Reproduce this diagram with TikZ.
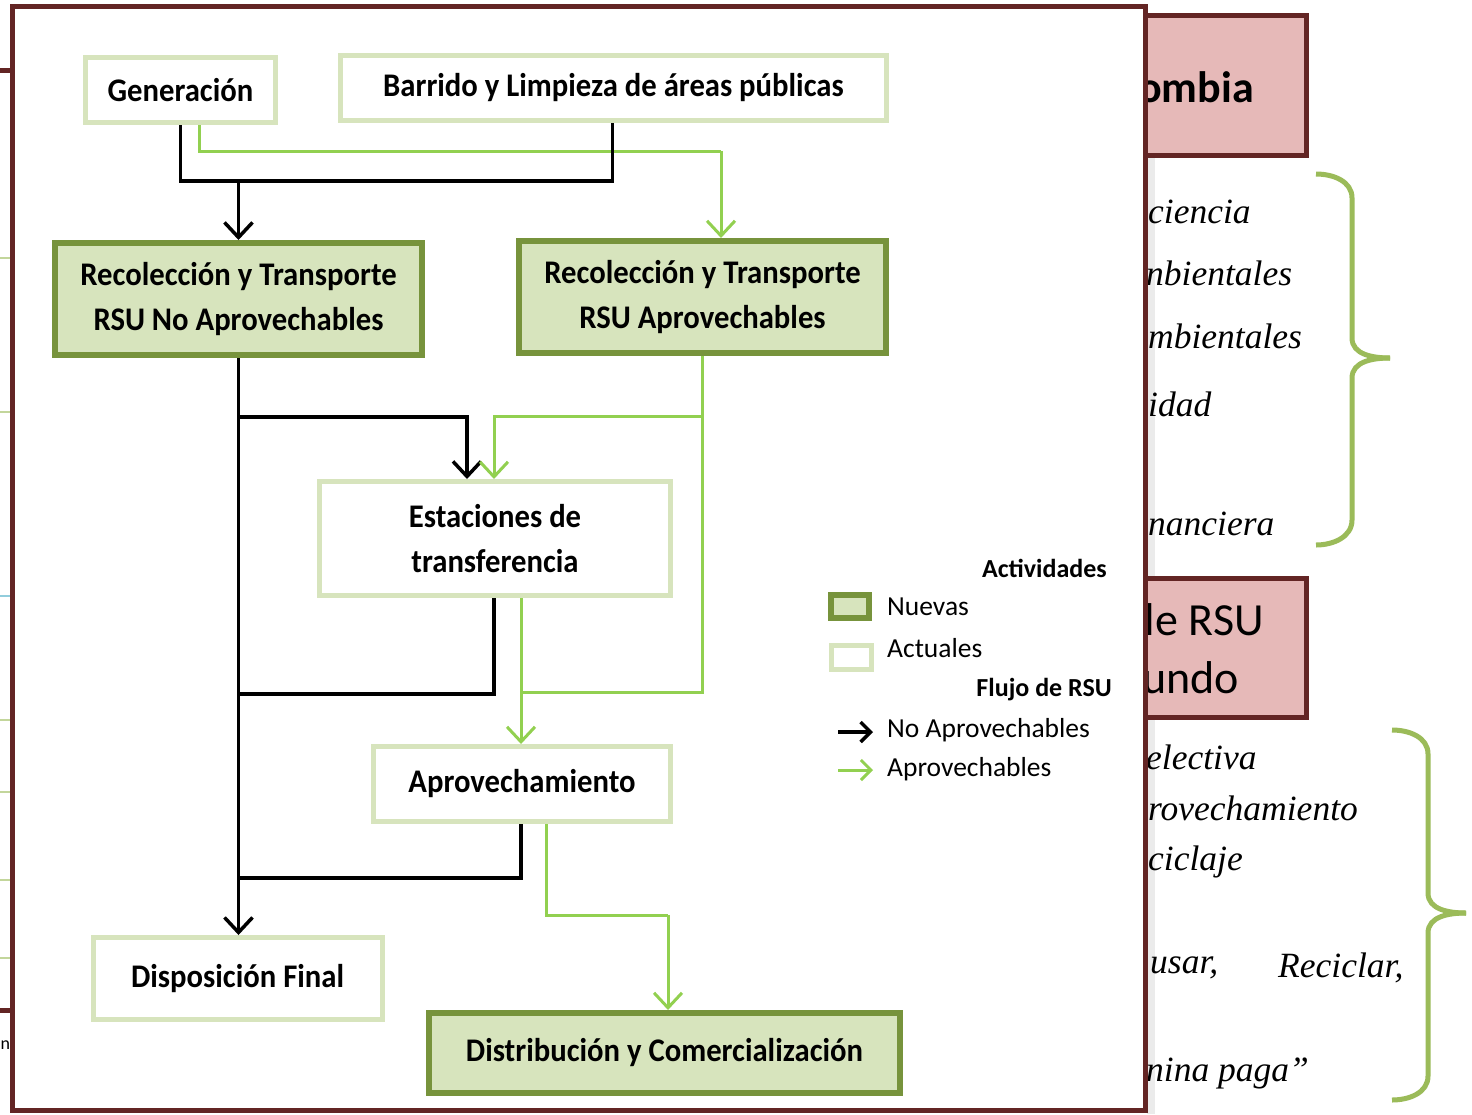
\documentclass[tikz,border=0pt]{standalone}
\usepackage{fontspec}
\setmainfont{Carlito}
\newfontfamily\flowfont{Carlito}[FakeStretch=0.93]
\newfontfamily\slideserif{Liberation Serif}
\usetikzlibrary{arrows.meta}
\definecolor{marco}{RGB}{99,37,36}
\definecolor{rosa}{RGB}{230,185,184}
\definecolor{verdeosc}{RGB}{119,147,60}
\definecolor{verdeclaro}{RGB}{215,228,189}
\definecolor{verdeflujo}{RGB}{146,208,80}
\definecolor{verdellave}{RGB}{155,187,89}
\definecolor{azulclaro}{RGB}{146,205,220}

\begin{document}
\begin{tikzpicture}[x=1pt,y=-1pt,
    nueva/.style={draw=verdeosc,fill=verdeclaro,line width=6pt,inner sep=0pt,align=center,
      font=\flowfont\bfseries\fontsize{33}{45}\selectfont},
    actual/.style={draw=verdeclaro,fill=white,line width=5pt,inner sep=0pt,align=center,
      font=\flowfont\bfseries\fontsize{33}{45}\selectfont},
    noflow/.style={draw=black,line width=3.5pt},
    apflow/.style={draw=verdeflujo,line width=3pt},
    punta/.style={-{Straight Barb[length=15pt,width=28pt]}},
    puntita/.style={-{Straight Barb[length=10pt,width=20pt]}},
    leyenda/.style={anchor=west,inner sep=0pt,font=\fontsize{27.5}{30}\selectfont},
    titulo/.style={anchor=east,inner sep=0pt,font=\bfseries\fontsize{26}{30}\selectfont},
    fondo/.style={anchor=west,inner sep=0pt,font=\slideserif\itshape\fontsize{35.5}{40}\selectfont},
    llave/.style={draw=verdellave,line width=5pt}]
  \useasboundingbox (0,0) rectangle (1472,1114);
  \fill[white] (0,0) rectangle (1472,1114);

  \draw [marco, line width=5pt] (0,70) -- (12,70);
  \draw [marco, line width=5pt] (0,1010) -- (12,1010);
  \draw [verdellave!60, line width=2pt] (0,258) -- (12,258);
  \draw [verdellave!60, line width=2pt] (0,412) -- (12,412);
  \draw [azulclaro, line width=2pt] (0,596) -- (12,596);
  \draw [verdellave!60, line width=2pt] (0,720) -- (12,720);
  \draw [verdellave!60, line width=2pt] (0,792) -- (12,792);
  \draw [verdellave!60, line width=2pt] (0,880) -- (12,880);
  \draw [verdellave!60, line width=2pt] (0,958) -- (12,958);
  \node [anchor=west, inner sep=0pt, font=\fontsize{18}{20}\selectfont] (fragn) at (0.5,1045) {n};

  \fill [black!8] (1147,155) rectangle (1155,1114);
  \draw [marco, fill=rosa, line width=5pt] (1100,15) rectangle (1306,155);
  \draw [marco, fill=rosa, line width=5pt] (1100,578) rectangle (1306,717);
  \node [anchor=east, inner sep=0pt, font=\bfseries\fontsize{44}{50}\selectfont] (ombia) at (1254,87) {ombia};
  \node [anchor=east, inner sep=0pt, font=\fontsize{46}{50}\selectfont] (rsu) at (1264,620) {le RSU};
  \node [anchor=east, inner sep=0pt, font=\fontsize{46}{50}\selectfont] (undo) at (1239,678) {undo};

  \node [fondo] (f1) at (1148,212) {ciencia};
  \node [fondo] (f2) at (1146,273) {nbientales};
  \node [fondo] (f3) at (1148,336) {mbientales};
  \node [fondo] (f4) at (1148,404) {idad};
  \node [fondo] (f5) at (1148,524) {nanciera};
  \node [fondo] (f6) at (1146,757) {electiva};
  \node [fondo] (f7) at (1148,808) {rovechamiento};
  \node [fondo] (f8) at (1148,862) {ciclaje};
  \node [fondo] (f9) at (1150,968) {usar,};
  \node [fondo] (f10) at (1278,968) {Reciclar,};
  \node [fondo] (f11) at (1146,1073) {nina paga”};

  \draw [llave] (1316,174) to[out=0,in=90] (1352,198) -- (1352,338) to[out=-90,in=180] (1390,358);
  \draw [llave] (1390,358) to[out=180,in=90] (1352,378) -- (1352,520) to[out=-90,in=0] (1316,545);
  \draw [llave] (1392,730) to[out=0,in=90] (1428,754) -- (1428,893) to[out=-90,in=180] (1466,913);
  \draw [llave] (1466,913) to[out=180,in=90] (1428,933) -- (1428,1076) to[out=-90,in=0] (1392,1100);

  \draw [marco, fill=white, line width=5pt] (12,6) rectangle (1145,1110);

  \node [actual, minimum width=190pt, minimum height=65pt] (gen) at (180.5,90) {Generación};
  \node [actual, minimum width=546pt, minimum height=65pt] (barr) at (613.5,88) {Barrido y Limpieza de áreas públicas};
  \node [nueva, minimum width=367pt, minimum height=112pt] (recno) at (238.5,299) {Recolección y Transporte\\RSU No Aprovechables};
  \node [nueva, minimum width=367pt, minimum height=112pt] (recap) at (702.5,297) {Recolección y Transporte\\RSU Aprovechables};
  \node [actual, minimum width=351pt, minimum height=114pt] (est) at (495,538.5) {Estaciones de\\transferencia};
  \node [actual, minimum width=297pt, minimum height=75pt] (aprov) at (522,784) {Aprovechamiento};
  \node [actual, minimum width=289pt, minimum height=82pt] (disp) at (237.5,978.5) {Disposición Final};
  \node [nueva, minimum width=471pt, minimum height=80pt] (dist) at (664.5,1053) {Distribución y Comercialización};

  \coordinate (j1) at (238.5,181);
  \coordinate (g1) at (721,151);
  \coordinate (j2) at (238.5,417);
  \coordinate (g2) at (702.5,416);
  \coordinate (g3) at (521,692);
  \coordinate (j3) at (238.5,694);
  \coordinate (j4) at (238.5,878);
  \coordinate (g4) at (668,915);

  \draw [apflow] ([xshift=19pt]gen.south) |- (g1);
  \draw [apflow, punta] (g1) -- (g1 |- recap.north);
  \draw [noflow] (gen.south) |- (j1) -| ([xshift=-1pt]barr.south);
  \draw [noflow, punta] (j1) -- (recno.north);

  \draw [noflow, punta] (recno.south) -- (recno.south |- disp.north);
  \draw [noflow, punta] (j2) -| ([xshift=-28pt]est.north);
  \draw [apflow] (recap.south) |- (g3);
  \draw [apflow, punta] (g2) -| ([xshift=-1pt]est.north);
  \draw [noflow] ([xshift=-1pt]est.south) |- (j3);
  \draw [apflow, punta] ([xshift=26pt]est.south) -- ([xshift=26pt]est.south |- aprov.north);
  \draw [noflow] ([xshift=-1pt]aprov.south) |- (j4);
  \draw [apflow] ([xshift=24pt]aprov.south) |- (g4);
  \draw [apflow, punta] (g4) -- (g4 |- dist.north);

  \node [titulo] (tact) at (1107,568) {Actividades};
  \node [nueva, minimum width=38pt, minimum height=23pt] (leyn) at (850,606.5) {};
  \node [leyenda] (tnue) at (887,607) {Nuevas};
  \node [actual, minimum width=40pt, minimum height=24pt] (leya) at (851.5,657.5) {};
  \node [leyenda] (tact2) at (887,648) {Actuales};
  \node [titulo] (tflu) at (1112,690) {Flujo de RSU};
  \coordinate (a1) at (838,732);
  \coordinate (a2) at (873,732);
  \coordinate (a3) at (838,770);
  \coordinate (a4) at (873,770);
  \draw [noflow, puntita] (a1) -- (a2);
  \draw [apflow, puntita] (a3) -- (a4);
  \node [leyenda] (tno) at (887,730) {No Aprovechables};
  \node [leyenda] (tap) at (887,769) {Aprovechables};
\end{tikzpicture}
\end{document}
